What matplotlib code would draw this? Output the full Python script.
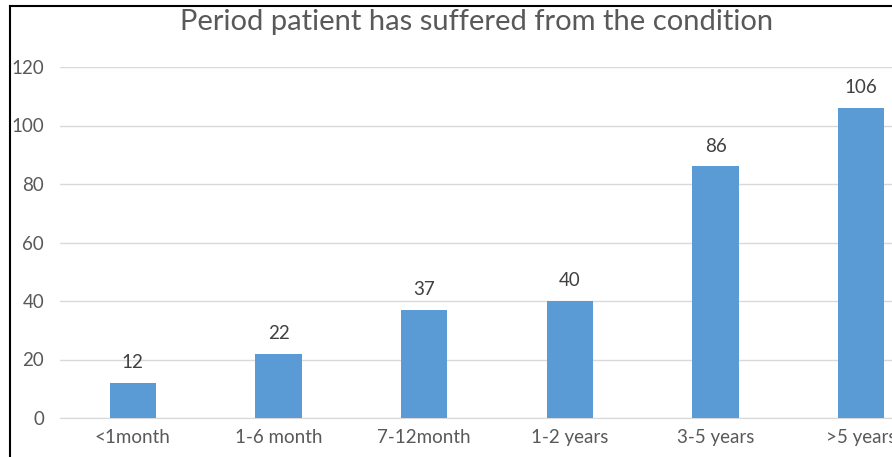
import matplotlib.pyplot as plt
from matplotlib.lines import Line2D

categories = ['<1month', '1-6 month', '7-12month', '1-2 years', '3-5 years', '>5 years']
counts = [12, 22, 37, 40, 86, 106]

W, H = 892, 457
plt.rcParams['font.family'] = ['Lato', 'DejaVu Sans']
fig = plt.figure(figsize=(W / 100, H / 100), dpi=100)

# axes runs off the right edge, like the cropped original
ax = fig.add_axes([60 / W, 39 / H, 874 / W, 351 / H])
x = list(range(len(categories)))
bars = ax.bar(x, counts, width=0.316, color='#5b9bd5', zorder=3)
for xi, v in zip(x, counts):
    ax.text(xi, v + 4, str(v), ha='center', va='bottom', fontsize=13.5, color='#404040')

ax.set_xlim(-0.5, len(categories) - 0.5)
ax.set_ylim(0, 120)
ax.set_yticks(range(0, 121, 20))
ax.set_xticks(x)
ax.set_xticklabels(categories)
ax.tick_params(axis='both', length=0, labelsize=13.5, labelcolor='#595959')
ax.tick_params(axis='y', pad=11.5)
ax.tick_params(axis='x', pad=8)
ax.grid(axis='y', color='#d9d9d9', linewidth=1, zorder=0)
for s in ['top', 'right', 'left']:
    ax.spines[s].set_visible(False)
ax.spines['bottom'].set_color('#d9d9d9')

fig.text(477 / W, 1 - 22 / H, 'Period patient has suffered from the condition',
         ha='center', va='center', fontsize=21, color='#595959')

# frame lines of the screenshot
fig.add_artist(Line2D([10 / W, 10 / W], [0, 1 - 6 / H], color='black', linewidth=1.5))
fig.add_artist(Line2D([10 / W, 1], [1 - 6 / H, 1 - 6 / H], color='black', linewidth=1.5))

fig.savefig('out.png', dpi=100)
